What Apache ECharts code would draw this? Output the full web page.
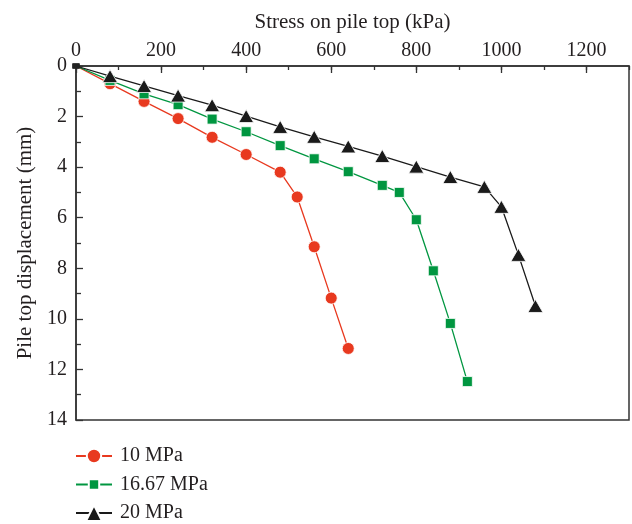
<!DOCTYPE html>
<html>
<head>
<meta charset="utf-8">
<script src="https://cdn.jsdelivr.net/npm/echarts@6/dist/echarts.min.js"></script>
<style>
  html, body { margin: 0; padding: 0; background: #fff; }
  #chart { width: 632px; height: 524px; }
</style>
</head>
<body>
<div id="chart"></div>
<script>
// Load–settlement curves: stress on pile top vs. pile top displacement
const seriesNames = ['10 MPa', '16.67 MPa', '20 MPa'];

const stress10 = [0, 80, 160, 240, 320, 400, 480, 520, 560, 600, 640];
const disp10   = [0, 0.7, 1.4, 2.08, 2.82, 3.5, 4.2, 5.18, 7.15, 9.18, 11.17];

const stress1667 = [0, 80, 160, 240, 320, 400, 480, 560, 640, 720, 760, 800, 840, 880, 920];
const disp1667   = [0, 0.57, 1.1, 1.53, 2.1, 2.6, 3.15, 3.67, 4.18, 4.72, 5.0, 6.08, 8.1, 10.18, 12.48];

const stress20 = [0, 80, 160, 240, 320, 400, 480, 560, 640, 720, 800, 880, 960, 1000, 1040, 1080];
const disp20   = [0, 0.4, 0.79, 1.17, 1.55, 1.98, 2.41, 2.8, 3.18, 3.56, 3.98, 4.39, 4.78, 5.57, 7.47, 9.49];

const colors = ['#e8391f', '#009640', '#1a1a1a'];
const symbols = ['circle', 'rect', 'triangle'];
const symbolSizes = [12, 10, [15, 13]];

const FONT = 'Liberation Serif';
const TEXT = '#231f20';

function pairs(xs, ys) {
  return xs.map((x, i) => [x, ys[i]]);
}

const chart = echarts.init(document.getElementById('chart'), null, { renderer: 'canvas' });

const dataSets = [pairs(stress10, disp10), pairs(stress1667, disp1667), pairs(stress20, disp20)];

const series = dataSets.map((d, i) => ({
  name: seriesNames[i],
  type: 'line',
  data: d.map((p, j) => j === 0
    ? { value: p, symbol: 'rect', symbolSize: [7, 5], itemStyle: { color: '#222', borderWidth: 0 } }
    : p),
  symbol: symbols[i],
  symbolSize: symbolSizes[i],
  showAllSymbol: true,
  clip: false,
  z: 3 + i,
  lineStyle: { color: colors[i], width: 1.3 },
  itemStyle: { color: colors[i], borderColor: '#fff', borderWidth: 0.8 },
  emphasis: { disabled: true },
  animation: false
}));

// one legend block per series, stacked down the lower-left corner
const legendTops = [446, 474.5, 503];
const legendIconHeights = [18, 13, 20];
const legends = seriesNames.map((n, i) => ({
  orient: 'vertical',
  padding: 0,
  left: 75, top: legendTops[i],
  itemWidth: 36, itemHeight: legendIconHeights[i],
  data: [n],
  textStyle: { fontFamily: FONT, fontSize: 20, color: TEXT, padding: [0, 0, 0, 3] },
  selectedMode: false
}));

const axisColor = '#333';
const plain = v => String(v);

chart.setOption({
  animation: false,
  grid: {
    left: 76, right: 3, top: 66, bottom: 104,
    show: true, borderColor: axisColor, borderWidth: 1.5, backgroundColor: 'transparent'
  },
  legend: legends,
  xAxis: [{
    type: 'value',
    position: 'top',
    min: 0, max: 1300, interval: 200,
    name: 'Stress on pile top (kPa)',
    nameLocation: 'middle',
    nameGap: 33,
    nameTextStyle: { fontFamily: FONT, fontSize: 21, color: TEXT },
    axisLine: { show: true, lineStyle: { color: axisColor, width: 1.5 } },
    axisTick: { show: true, inside: true, length: 7, lineStyle: { color: axisColor, width: 1.3 } },
    axisLabel: { fontFamily: FONT, fontSize: 20, color: TEXT, margin: 5, showMaxLabel: false, formatter: plain },
    splitLine: { show: false }
  }, {
    type: 'value',
    position: 'top',
    min: 0, max: 1300, interval: 100,
    axisLine: { show: false },
    axisTick: { show: true, inside: true, length: 4, lineStyle: { color: axisColor, width: 1.3 } },
    axisLabel: { show: false },
    splitLine: { show: false }
  }],
  yAxis: {
    type: 'value',
    inverse: true,
    min: 0, max: 14, interval: 2,
    name: 'Pile top displacement (mm)',
    nameLocation: 'middle',
    nameGap: 29,
    nameTextStyle: { fontFamily: FONT, fontSize: 21, color: TEXT },
    axisLine: { show: true, lineStyle: { color: axisColor, width: 1.5 } },
    axisTick: { show: true, inside: true, length: 7, lineStyle: { color: axisColor, width: 1.3 } },
    minorTick: { show: true, splitNumber: 2, length: 5, lineStyle: { color: axisColor, width: 1.3 } },
    axisLabel: { fontFamily: FONT, fontSize: 20, color: TEXT, margin: 9, formatter: plain },
    splitLine: { show: false }
  },
  series: series
});
</script>
</body>
</html>
